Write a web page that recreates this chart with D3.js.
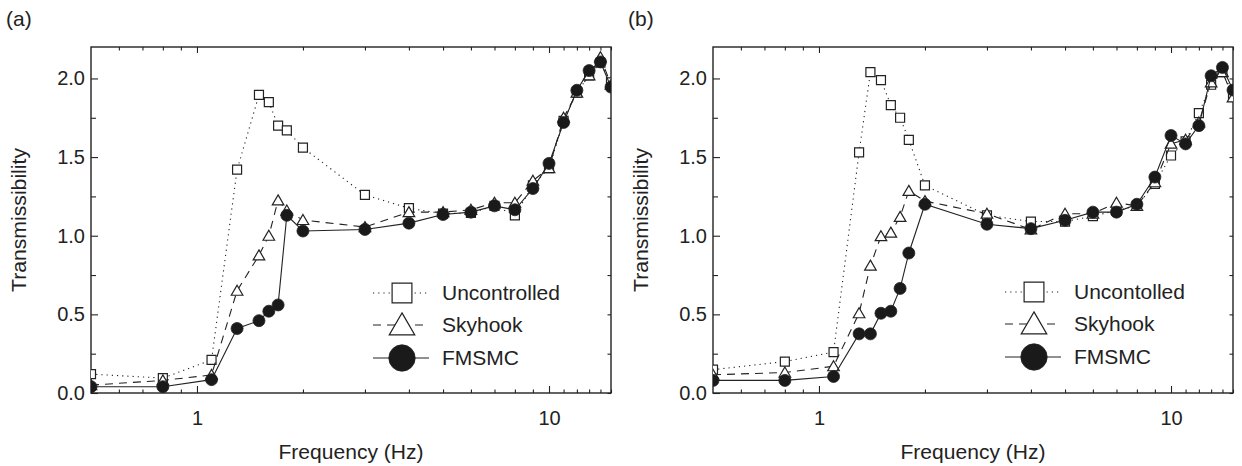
<!DOCTYPE html>
<html>
  <head>
	<meta charset="UTF-8">
	<title>Transmissibility</title>
	<script type="text/javascript" src="https://d3js.org/d3.v7.min.js"></script>
	<style>
		body { margin:0; background:#fff; }
		text { font-family:"Liberation Sans", Arial, Helvetica, sans-serif; fill:#222; }
	</style>
  </head>
  <body>
	<svg width="1242" height="466"></svg>
	<script>
	// frequency points (Hz)
	var freqA = [0.5, 0.8, 1.1, 1.3, 1.5, 1.6, 1.7, 1.8, 2, 3, 4, 5, 6, 7, 8, 9, 10, 11, 12, 13, 14, 15];
	var freqB = [0.5, 0.8, 1.1, 1.3, 1.4, 1.5, 1.6, 1.7, 1.8, 2, 3, 4, 5, 6, 7, 8, 9, 10, 11, 12, 13, 14, 15];

	// panel (a)
	var uncA = [0.12, 0.095, 0.21, 1.42, 1.895, 1.85, 1.70, 1.67, 1.56, 1.26, 1.175, 1.14, 1.145, 1.19, 1.13, 1.32, 1.43, 1.73, 1.91, 2.02, 2.10, 1.975];
	var skyA = [0.05, 0.08, 0.115, 0.65, 0.875, 1.0, 1.225, 1.16, 1.10, 1.055, 1.15, 1.15, 1.165, 1.21, 1.21, 1.35, 1.43, 1.75, 1.91, 2.02, 2.135, 1.96];
	var fmA  = [0.04, 0.04, 0.085, 0.41, 0.46, 0.52, 0.56, 1.13, 1.03, 1.04, 1.08, 1.135, 1.15, 1.19, 1.165, 1.30, 1.46, 1.72, 1.925, 2.05, 2.105, 1.945];

	// panel (b)
	var uncB = [0.148, 0.2, 0.26, 1.53, 2.04, 1.99, 1.83, 1.75, 1.61, 1.32, 1.13, 1.09, 1.09, 1.125, 1.16, 1.19, 1.33, 1.51, 1.60, 1.78, 1.96, 2.04, 1.90];
	var skyB = [0.116, 0.13, 0.17, 0.507, 0.81, 0.997, 1.02, 1.12, 1.285, 1.22, 1.14, 1.04, 1.14, 1.14, 1.21, 1.19, 1.34, 1.585, 1.61, 1.72, 1.975, 2.04, 1.88];
	var fmB  = [0.08, 0.08, 0.105, 0.376, 0.376, 0.507, 0.52, 0.665, 0.89, 1.2, 1.073, 1.045, 1.098, 1.15, 1.15, 1.20, 1.373, 1.637, 1.584, 1.70, 2.017, 2.07, 1.926];

	var xMajor = [1, 10];
	var xMinor = [0.6, 0.7, 0.8, 0.9, 2, 3, 4, 5, 6, 7, 8, 9, 11, 12, 13, 14, 15];
	var yMajor = [0, 0.5, 1.0, 1.5, 2.0];
	var yMinor = [0.25, 0.75, 1.25, 1.75];

	var svg = d3.select("svg");
	var ink = "#222";
	var W = 520, H = 346, top0 = 47;

	function drawPanel(opt){
		var g = svg.append("g").attr("transform","translate("+opt.left+","+top0+")");
		var x = d3.scaleLog().domain([0.5,15]).range([0,W]);
		var y = d3.scaleLinear().domain([0,2.2]).range([H,0]);

		var clipId = "clip"+opt.id;
		g.append("clipPath").attr("id",clipId)
			.append("rect").attr("width",W).attr("height",H);

		// axes, ticks pointing inward
		g.append("g").attr("transform","translate(0,"+H+")")
			.call(d3.axisBottom(x).tickValues(xMajor).tickFormat(d3.format("d")).tickSize(-7).tickPadding(17.5));
		g.append("g").attr("transform","translate(0,"+H+")")
			.call(d3.axisBottom(x).tickValues(xMinor).tickFormat("").tickSize(-3.5));
		g.append("g").call(d3.axisTop(x).tickValues(xMajor).tickFormat("").tickSize(-6));
		g.append("g").call(d3.axisTop(x).tickValues(xMinor).tickFormat("").tickSize(-3.5));
		g.append("g")
			.call(d3.axisLeft(y).tickValues(yMajor).tickFormat(d3.format(".1f")).tickSize(-7).tickPadding(6));
		g.append("g").call(d3.axisLeft(y).tickValues(yMinor).tickFormat("").tickSize(-5));
		g.append("g").attr("transform","translate("+W+",0)")
			.call(d3.axisRight(y).tickValues(yMajor.concat(yMinor)).tickFormat("").tickSize(-3.5));
		g.selectAll(".domain").remove();
		g.selectAll(".tick line").attr("stroke",ink).attr("stroke-width",1.1);
		g.selectAll(".tick text").style("font-size","20px").attr("fill",ink);

		g.append("rect").attr("width",W).attr("height",H)
			.attr("fill","none").attr("stroke",ink).attr("stroke-width",1.4);

		var series = [
			{vals:opt.unc, dash:"1.2,4", kind:"square"},
			{vals:opt.sky, dash:"8,6", kind:"triangle"},
			{vals:opt.fm, dash:null, kind:"circle"}
		];
		var line = d3.line().x(function(d){return x(d[0]);}).y(function(d){return y(d[1]);});
		var plot = g.append("g").attr("clip-path","url(#"+clipId+")");

		series.forEach(function(s){
			var pts = opt.freq.map(function(f,i){ return [f, s.vals[i]]; });
			plot.append("path").datum(pts)
				.attr("d",line)
				.attr("fill","none")
				.attr("stroke",ink)
				.attr("stroke-width",1.1)
				.attr("stroke-dasharray",s.dash);
			var m = plot.append("g").selectAll("path").data(pts).enter().append("path")
				.attr("transform",function(d){ return "translate("+x(d[0])+","+y(d[1])+")"; });
			styleMarker(m, s.kind, 1);
		});

		// legend
		series.forEach(function(s,i){
			var lg = g.append("g").attr("transform","translate("+(opt.legX-opt.left)+","+(opt.legY[i]-top0)+")");
			lg.append("line").attr("x1",-29).attr("x2",27).attr("y1",0).attr("y2",0)
				.attr("stroke",ink).attr("stroke-width",1.1).attr("stroke-dasharray",s.dash);
			var m = lg.append("path");
			styleMarker(m, s.kind, 2.2);
			lg.append("text").attr("x",40).attr("y",0).attr("dy","0.35em")
				.style("font-size","21px").text(opt.labels[i]);
		});

		// axis titles and panel tag
		g.append("text").attr("x",W/2).attr("y",H+66).attr("text-anchor","middle")
			.attr("textLength",145).attr("lengthAdjust","spacingAndGlyphs")
			.style("font-size","20px").text("Frequency (Hz)");
		g.append("text")
			.attr("transform","translate(-65,"+(H/2)+") rotate(-90)")
			.attr("text-anchor","middle")
			.attr("textLength",144).attr("lengthAdjust","spacingAndGlyphs")
			.style("font-size","20px").text("Transmissibility");
		g.append("text").attr("x",-85).attr("y",-21)
			.style("font-size","21px").text(opt.tag);
	}

	function styleMarker(sel, kind, k){
		if(kind==="square"){
			var a = 4.5*k;
			sel.attr("d","M"+(-a)+","+(-a)+"h"+(2*a)+"v"+(2*a)+"h"+(-2*a)+"Z")
				.attr("fill","#fff").attr("stroke",ink).attr("stroke-width",1.2);
		} else if(kind==="triangle"){
			var w = 5.8*k, h = 10*k;
			sel.attr("d","M0,"+(-h*0.55)+"L"+w+","+(h*0.45)+"L"+(-w)+","+(h*0.45)+"Z")
				.attr("fill","#fff").attr("stroke",ink).attr("stroke-width",1.2);
		} else {
			var r = 6*k;
			sel.attr("d",d3.symbol().type(d3.symbolCircle).size(Math.PI*r*r)())
				.attr("fill","#1a1a1a").attr("stroke",ink).attr("stroke-width",0.8);
		}
	}

	drawPanel({id:"a", tag:"(a)", left:91, freq:freqA, unc:uncA, sky:skyA, fm:fmA,
		labels:["Uncontrolled","Skyhook","FMSMC"], legX:402, legY:[293,325,358]});
	drawPanel({id:"b", tag:"(b)", left:713, freq:freqB, unc:uncB, sky:skyB, fm:fmB,
		labels:["Uncontolled","Skyhook","FMSMC"], legX:1034, legY:[292,324,357]});
	</script>
  </body>
</html>
